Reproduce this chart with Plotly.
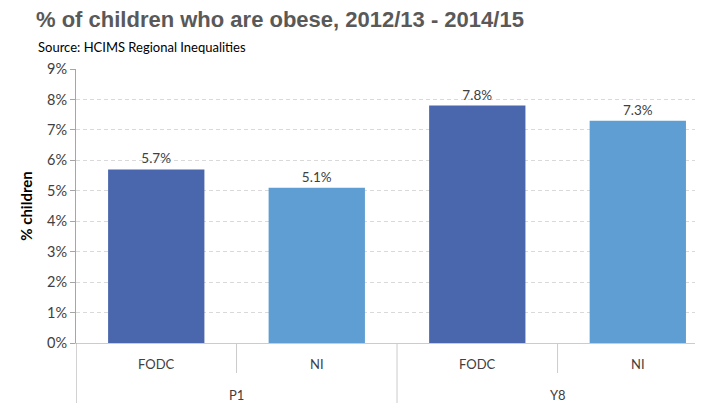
import plotly.graph_objects as go

# Data
groups = ["P1", "P1", "Y8", "Y8"]
areas = ["FODC", "NI", "FODC", "NI"]
obese_pct = [5.7, 5.1, 7.8, 7.3]
y_ticks = list(range(0, 10))

bar_colors = {"FODC": "#4A66AC", "NI": "#5F9ED3"}
axis_dark = "#A6A6A6"
axis_light = "#CCCCCC"
label_font = "Lato, 'Open Sans', sans-serif"

# the page puts the figure 8px in from the top-left corner
PLOT_H = 274

x_pos = list(range(len(areas)))

fig = go.Figure()
fig.add_trace(go.Bar(
    x=x_pos,
    y=obese_pct,
    width=0.6,
    marker=dict(color=[bar_colors[a] for a in areas], line=dict(width=0)),
    text=[f"{v:.1f}%" for v in obese_pct],
    textposition="outside",
    textfont=dict(size=13.5, color="#404040", family=label_font),
    cliponaxis=False,
    hoverinfo="skip",
    showlegend=False,
))

# Sub-category labels (FODC / NI)
for x, a in zip(x_pos, areas):
    fig.add_annotation(x=x, y=-21 / PLOT_H, xref="x", yref="paper", text=a,
                       showarrow=False, yanchor="middle",
                       font=dict(size=13, color="#404040", family=label_font))

# Group labels (P1 / Y8), centred over their pair
for g in dict.fromkeys(groups):
    idx = [i for i, gg in enumerate(groups) if gg == g]
    fig.add_annotation(x=sum(idx) / len(idx), y=-52 / PLOT_H, xref="x", yref="paper",
                       text=g, showarrow=False, yanchor="middle",
                       font=dict(size=13, color="#404040", family=label_font))

# Category dividers
for i in range(len(areas) + 1):
    long_line = i == 0 or i == len(areas) or groups[i - 1] != groups[i]
    fig.add_shape(type="line", xref="x", yref="paper",
                  x0=i - 0.5, x1=i - 0.5, y0=0,
                  y1=(-62 if long_line else -30) / PLOT_H,
                  line=dict(color=axis_dark if i == 0 else axis_light, width=1))

fig.update_layout(
    width=703, height=403,
    margin=dict(l=68, r=0, t=61, b=68),
    paper_bgcolor="white", plot_bgcolor="white",
    title=dict(
        text="% of children who are obese, 2012/13 - 2014/15",
        xref="container", x=28 / 703, xanchor="left",
        yref="container", y=1 - 11 / 403, yanchor="middle",
        font=dict(family="Liberation Sans, Arial, sans-serif", size=22, color="#595959",
                  weight="bold"),
    ),
)

fig.add_annotation(text="Source: HCIMS Regional Inequalities", xref="paper", yref="paper",
                   x=-40 / 635, y=1.0 + 22 / PLOT_H, xanchor="left", yanchor="middle",
                   showarrow=False,
                   font=dict(size=13, color="#000000", family=label_font))

fig.update_xaxes(
    range=[-0.5, 3.456],
    showticklabels=False, ticks="", showgrid=False,
    showline=True, linecolor=axis_light, linewidth=1,
    zeroline=False,
)
fig.update_yaxes(
    range=[0, 9],
    tickvals=y_ticks, ticktext=[f"{v}%" for v in y_ticks],
    ticks="outside", ticklen=5, tickcolor=axis_dark,
    tickfont=dict(size=14.5, color="#404040", family=label_font),
    showgrid=True, gridcolor="#D9D9D9", griddash="4px,3px", gridwidth=1,
    showline=True, linecolor=axis_dark, linewidth=1, zeroline=False,
    title=dict(text="<b>% children</b>", standoff=10,
               font=dict(size=15, color="#000000", family=label_font)),
)

fig.write_html("out.html")
